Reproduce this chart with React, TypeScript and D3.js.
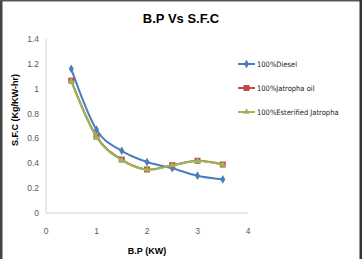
import React from 'react';
import * as d3 from 'd3';

const bp = [0.5, 1, 1.5, 2, 2.5, 3, 3.5];
const diesel = [1.16, 0.67, 0.5, 0.41, 0.36, 0.3, 0.27];
const jatropha = [1.065, 0.615, 0.43, 0.35, 0.385, 0.42, 0.39];
const esterified = [1.06, 0.61, 0.425, 0.348, 0.383, 0.418, 0.388];
const xTicks = [0, 1, 2, 3, 4];
const yTicks = [0, 0.2, 0.4, 0.6, 0.8, 1, 1.2, 1.4];

const series = [
  { name: '100%Diesel', values: diesel, color: '#4a7ebb', marker: 'diamond' },
  { name: '100%Jatropha oil', values: jatropha, color: '#be4b48', marker: 'square' },
  { name: '100%Esterified Jatropha', values: esterified, color: '#98b954', marker: 'triangle' },
];

const App = () => {
  const width = 362, height = 259;
  const x = d3.scaleLinear().domain([0, 4]).range([46, 248]);
  const y = d3.scaleLinear().domain([0, 1.4]).range([213, 39]);

  const line = d3.line<number>()
    .x((d, i) => x(bp[i]))
    .y(d => y(d))
    .curve(d3.curveCatmullRom.alpha(0));

  const marker = (type: string, color: string, cx: number, cy: number, key: any) => {
    if (type === 'diamond') {
      const s = d3.symbol(d3.symbolDiamond, 22)();
      return <path key={key} d={s || ''} transform={`translate(${cx},${cy})`} fill={color} />;
    }
    if (type === 'square') {
      return <rect key={key} x={cx - 3} y={cy - 3} width={6} height={6} fill={color} />;
    }
    const s = d3.symbol(d3.symbolTriangle, 18)();
    return <path key={key} d={s || ''} transform={`translate(${cx},${cy})`} fill={color} />;
  };

  return (
    <svg width={width} height={height} style={{ position: 'absolute', left: 0, top: 0 }}
      fontFamily="'Liberation Sans', Arial, sans-serif">
      <rect width={width} height={height} fill="#fff" />
      <rect x={0} y={0} width={2.5} height={height} fill="#444" />
      <rect x={0} y={0} width={width} height={1.5} fill="#555" />
      <rect x={359.5} y={0} width={2.5} height={height} fill="#333" />

      <text x={181} y={23} textAnchor="middle" fontSize={13} fontWeight="bold" fill="#000">B.P Vs S.F.C</text>

      <line x1={x(0)} x2={x(0)} y1={y(1.4)} y2={y(0)} stroke="#d0d0d0" />
      <line x1={x(0)} x2={x(4)} y1={y(0)} y2={y(0)} stroke="#d0d0d0" />

      {yTicks.map(t => (
        <text key={t} x={39} y={y(t) + 3} textAnchor="end" fontSize={8.5} fill="#595959">{t}</text>
      ))}
      {xTicks.map(t => (
        <text key={t} x={x(t)} y={234} textAnchor="middle" fontSize={8.5} fill="#595959">{t}</text>
      ))}

      <text x={147} y={254} textAnchor="middle" fontSize={9} fontWeight="bold" fill="#000">B.P (KW)</text>
      <text transform="translate(18,110) rotate(-90)" textAnchor="middle" fontSize={9} fontWeight="bold" fill="#000">S.F.C (Kg/KW-hr)</text>

      {series.map(s => (
        <g key={s.name}>
          <path d={line(s.values) || ''} fill="none" stroke={s.color} strokeWidth={2} />
          {s.values.map((v, i) => marker(s.marker, s.color, x(bp[i]), y(v), i))}
        </g>
      ))}

      {series.map((s, i) => {
        const ly = 64 + i * 24;
        return (
          <g key={s.name}>
            <line x1={238} x2={255} y1={ly} y2={ly} stroke={s.color} strokeWidth={2} />
            {marker(s.marker, s.color, 246.5, ly, 'm')}
            <text x={257} y={ly + 2.8} fontSize={7.5} fill="#222"
              fontFamily="'Liberation Sans Narrow', 'DejaVu Sans Condensed', sans-serif">{s.name}</text>
          </g>
        );
      })}
    </svg>
  );
};

export default App;
